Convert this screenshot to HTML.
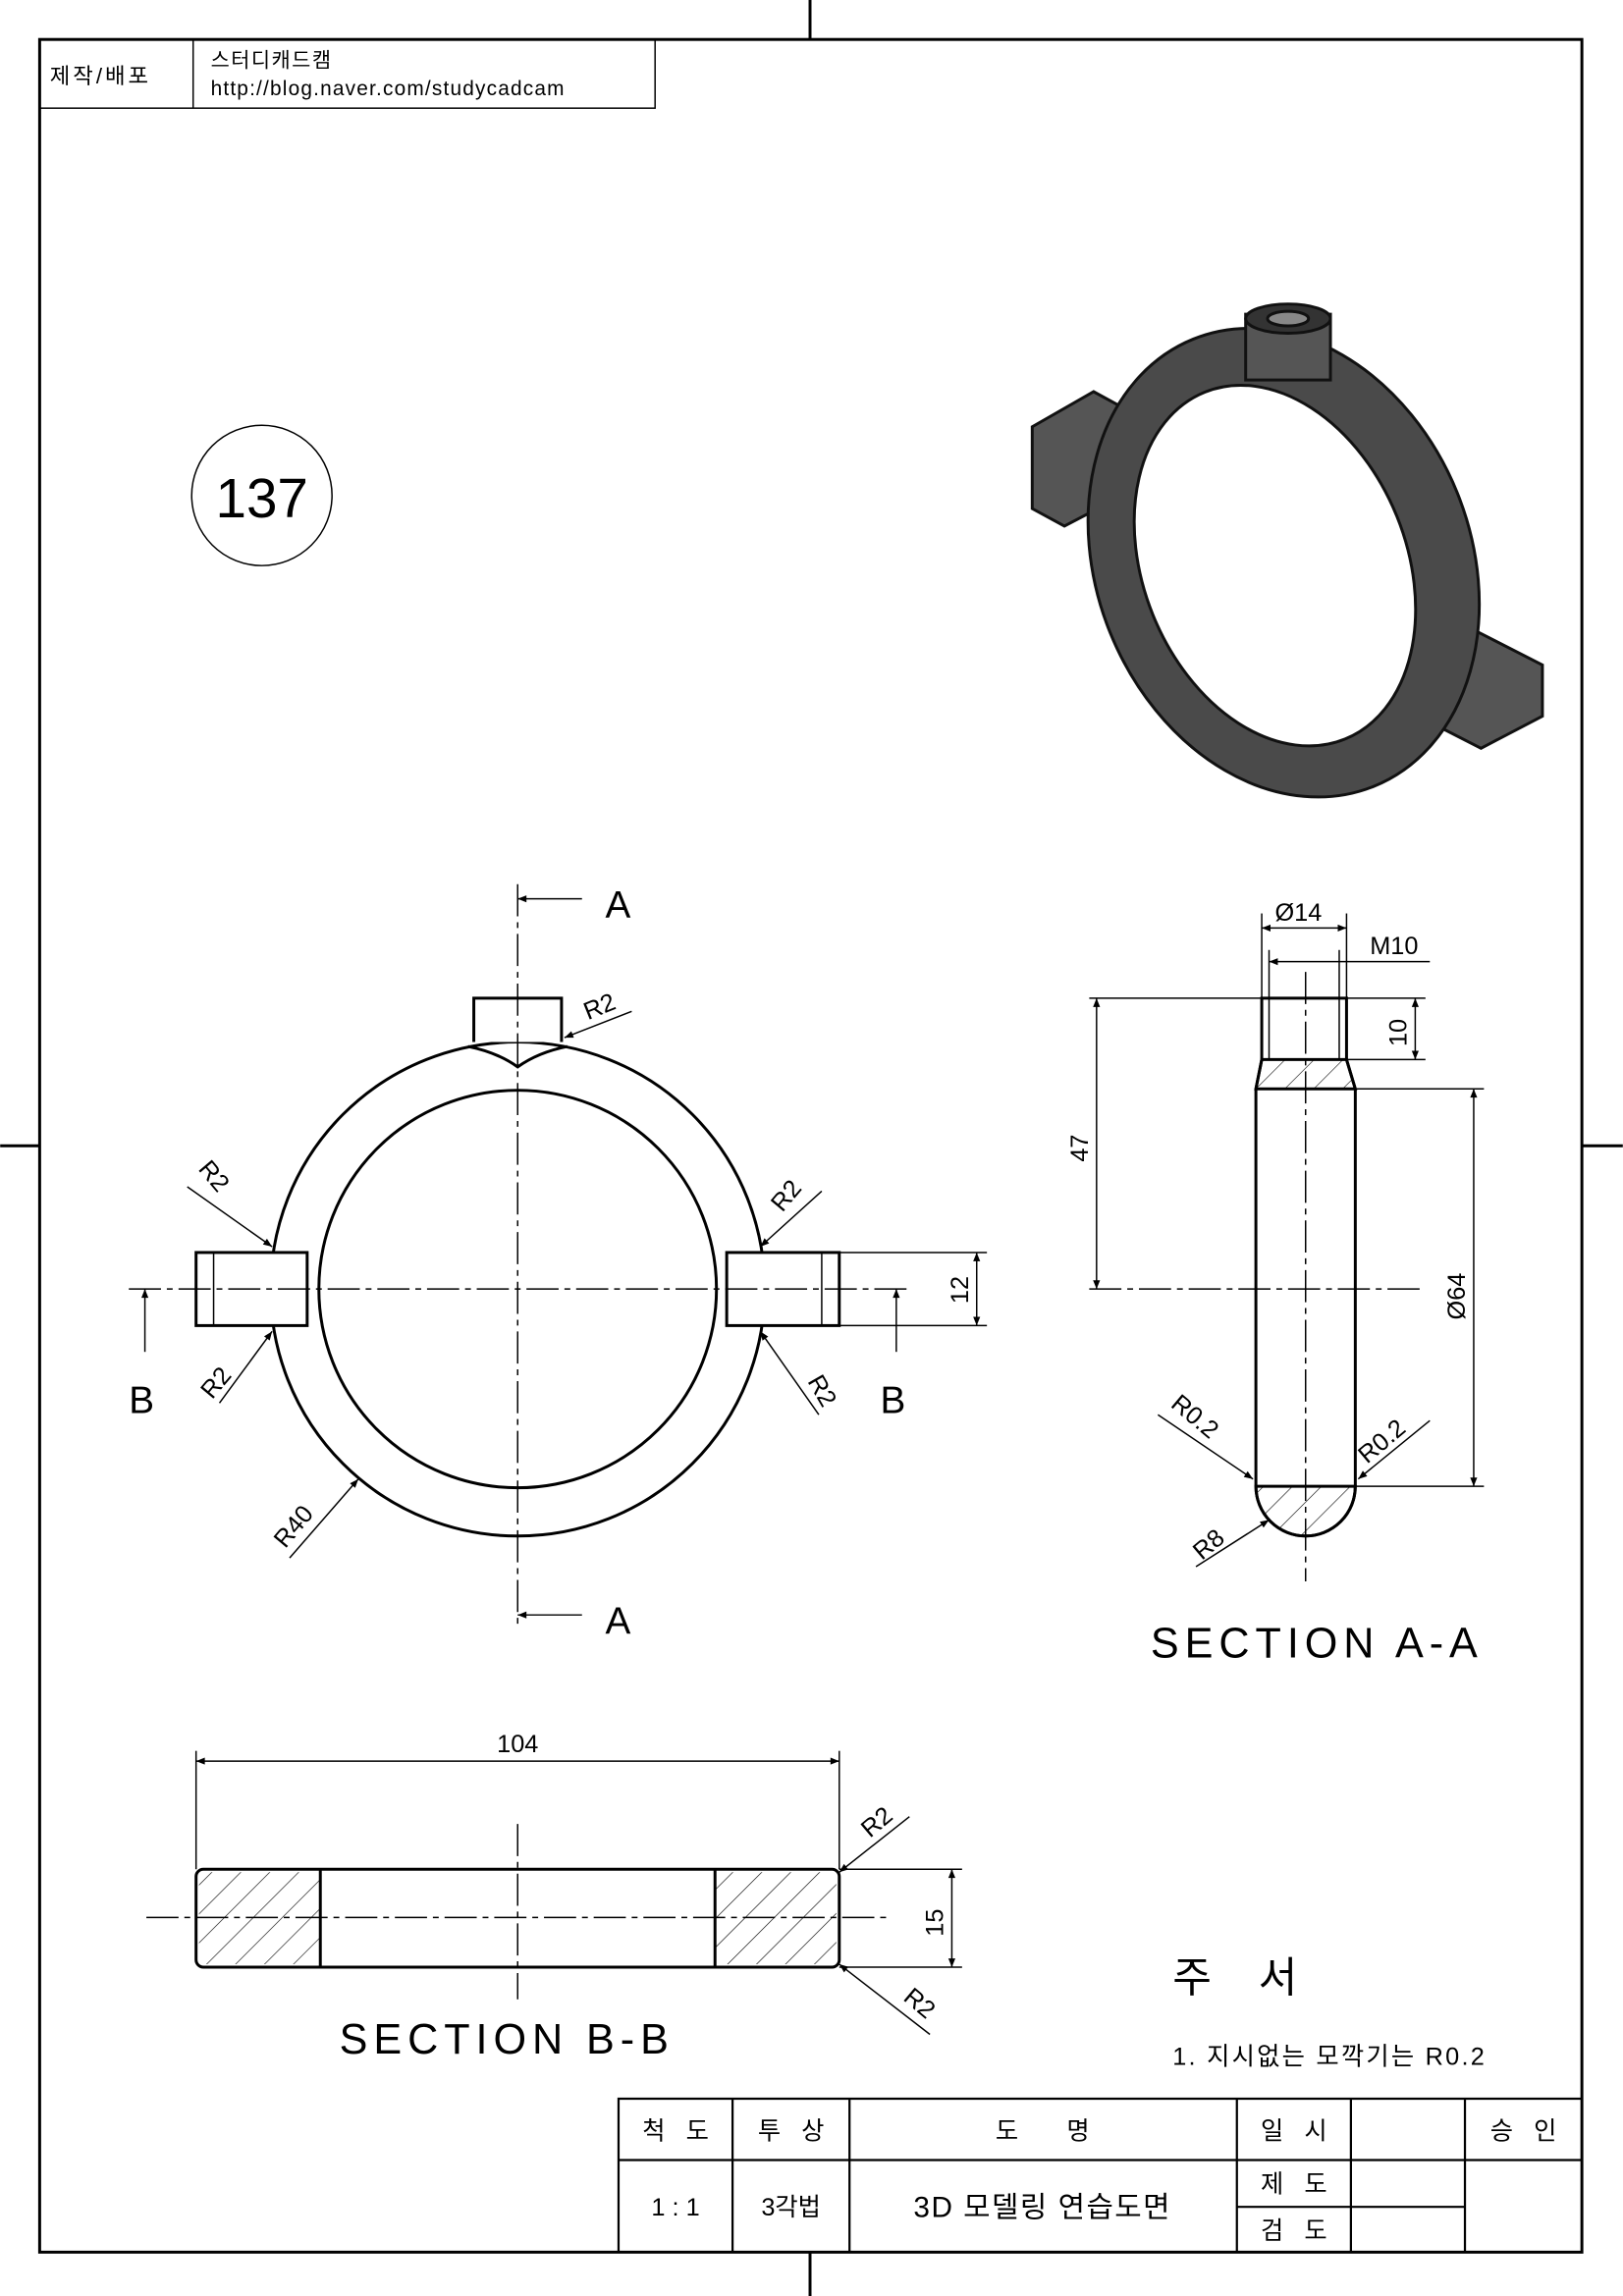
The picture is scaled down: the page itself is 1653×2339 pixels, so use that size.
<!DOCTYPE html>
<html><head><meta charset="utf-8"><style>
html,body{margin:0;padding:0;background:#fff;}
svg{display:block;}
text{font-family:"Liberation Sans","Noto Sans CJK KR",sans-serif;fill:#000;}
</style></head><body>
<svg width="1653" height="2339" viewBox="0 0 1110 1571" xmlns="http://www.w3.org/2000/svg">
<defs>
<pattern id="h" width="14" height="14" patternUnits="userSpaceOnUse" patternTransform="rotate(45)">
<line x1="0" y1="0" x2="0" y2="14" stroke="#000" stroke-width="0.8"/></pattern>
<marker id="a" viewBox="0 0 10 10" refX="10" refY="5" markerWidth="8" markerHeight="6" orient="auto-start-reverse"><path d="M0,1 L10,5 L0,9z" fill="#000"/></marker>
</defs>
<g fill="none" stroke="#000">
<rect x="27" y="27" width="1055" height="1514" stroke-width="2"/>
<line x1="554" y1="0" x2="554" y2="27" stroke-width="2"/>
<line x1="554" y1="1541" x2="554" y2="1571" stroke-width="2"/>
<line x1="0" y1="784" x2="27" y2="784" stroke-width="2"/>
<line x1="1082" y1="784" x2="1110" y2="784" stroke-width="2"/>
<rect x="27" y="27" width="421" height="47"/>
<line x1="132" y1="27" x2="132" y2="74"/>
<circle cx="179" cy="339" r="48"/>
</g>
<text x="34" y="57" font-size="15" letter-spacing="2">제작/배포</text>
<text x="144" y="46" font-size="14" letter-spacing="1">스터디캐드캠</text>
<text x="144" y="65" font-size="14" letter-spacing="0.8">http://blog.naver.com/studycadcam</text>
<text x="179" y="354" font-size="38" text-anchor="middle">137</text>

<!-- iso -->
<g stroke="#111" stroke-width="2">
<polygon points="706,292 748,268 770,280 770,338 728,360 706,348" fill="#555"/>
<polygon points="1010,432 1055,455 1055,490 1013,512 970,490 970,455" fill="#555"/>
<ellipse cx="878" cy="385" rx="128" ry="165" transform="rotate(-22 878 385)" fill="#4a4a4a"/>
<ellipse cx="872" cy="387" rx="90" ry="128" transform="rotate(-22 872 387)" fill="#fff"/>
<rect x="852" y="215" width="58" height="45" fill="#555"/>
<ellipse cx="881" cy="218" rx="29" ry="10" fill="#333"/>
<ellipse cx="881" cy="218" rx="14" ry="5" fill="#888"/>
</g>

<!-- front view -->
<g fill="none" stroke="#000" stroke-width="2">
<circle cx="354" cy="882" r="169"/>
<circle cx="354" cy="882" r="136"/>
<path d="M324,713 L324,683 L384,683 L384,713" fill="#fff"/>
<path d="M320,716 Q340,720 354,730 Q368,720 388,716"/>
<rect x="134" y="857" width="76" height="50" fill="#fff"/>
<rect x="497" y="857" width="77" height="50" fill="#fff"/>
<line x1="146" y1="857" x2="146" y2="907" stroke-width="1"/>
<line x1="562" y1="857" x2="562" y2="907" stroke-width="1"/>
</g>
<g stroke="#000" stroke-width="1" stroke-dasharray="22,4,4,4">
<line x1="354" y1="605" x2="354" y2="1115"/>
<line x1="88" y1="882" x2="624" y2="882"/>
</g>
<g stroke="#000" stroke-width="1">
<line x1="354" y1="615" x2="398" y2="615" marker-start="url(#a)"/>
<line x1="354" y1="1105" x2="398" y2="1105" marker-start="url(#a)"/>
<line x1="99" y1="882" x2="99" y2="925" marker-start="url(#a)"/>
<line x1="613" y1="882" x2="613" y2="925" marker-start="url(#a)"/>
<line x1="574" y1="857" x2="675" y2="857"/><line x1="574" y1="907" x2="675" y2="907"/>
<line x1="668" y1="857" x2="668" y2="907" marker-start="url(#a)" marker-end="url(#a)"/>
<line x1="386" y1="710" x2="432" y2="692" marker-start="url(#a)"/>
<line x1="186" y1="853" x2="128" y2="812" marker-start="url(#a)"/>
<line x1="186" y1="911" x2="150" y2="960" marker-start="url(#a)"/>
<line x1="520" y1="853" x2="562" y2="815" marker-start="url(#a)"/>
<line x1="520" y1="911" x2="560" y2="968" marker-start="url(#a)"/>
<line x1="245" y1="1012" x2="198" y2="1066" marker-start="url(#a)"/>
</g>
<g font-size="26"><text x="414" y="628">A</text><text x="414" y="1118">A</text><text x="88" y="967">B</text><text x="602" y="967">B</text></g>
<g font-size="17">
<text x="402" y="698" transform="rotate(-22 402 698)">R2</text>
<text x="135" y="800" transform="rotate(50 135 800)">R2</text>
<text x="145" y="958" transform="rotate(-50 145 958)">R2</text>
<text x="535" y="830" transform="rotate(-50 535 830)">R2</text>
<text x="552" y="945" transform="rotate(60 552 945)">R2</text>
<text x="195" y="1060" transform="rotate(-50 195 1060)">R40</text>
<text x="662" y="892" transform="rotate(-90 662 892)">12</text>
</g>

<!-- section A-A -->
<g stroke="#000" stroke-width="2">
<path d="M863,683 L921,683 L921,725 L927,745 L927,1017 A34,34 0 0 1 859,1017 L859,745 L863,725 Z" fill="#fff"/>
<path d="M863,725 L921,725 L927,745 L859,745 Z" fill="url(#h)"/>
<path d="M859,1017 L927,1017 A34,34 0 0 1 859,1017 Z" fill="url(#h)"/>
<line x1="868" y1="683" x2="868" y2="725" stroke-width="1"/>
<line x1="916" y1="683" x2="916" y2="725" stroke-width="1"/>
</g>
<g stroke="#000" stroke-width="1">
<line x1="893" y1="665" x2="893" y2="1082" stroke-dasharray="22,4,4,4"/>
<line x1="745" y1="882" x2="975" y2="882" stroke-dasharray="22,4,4,4"/>
<line x1="863" y1="683" x2="863" y2="625"/><line x1="921" y1="683" x2="921" y2="625"/>
<line x1="863" y1="635" x2="921" y2="635" marker-start="url(#a)" marker-end="url(#a)"/>
<line x1="868" y1="683" x2="868" y2="650"/><line x1="916" y1="683" x2="916" y2="650"/>
<line x1="868" y1="658" x2="978" y2="658" marker-start="url(#a)"/>
<line x1="921" y1="683" x2="975" y2="683"/><line x1="921" y1="725" x2="975" y2="725"/>
<line x1="968" y1="683" x2="968" y2="725" marker-start="url(#a)" marker-end="url(#a)"/>
<line x1="745" y1="683" x2="863" y2="683"/>
<line x1="750" y1="683" x2="750" y2="882" marker-start="url(#a)" marker-end="url(#a)"/>
<line x1="927" y1="745" x2="1015" y2="745"/><line x1="927" y1="1017" x2="1015" y2="1017"/>
<line x1="1008" y1="745" x2="1008" y2="1017" marker-start="url(#a)" marker-end="url(#a)"/>
<line x1="857" y1="1012" x2="792" y2="968" marker-start="url(#a)"/>
<line x1="929" y1="1012" x2="978" y2="972" marker-start="url(#a)"/>
<line x1="868" y1="1040" x2="818" y2="1072" marker-start="url(#a)"/>
</g>
<g font-size="17">
<text x="872" y="630">Ø14</text><text x="937" y="653">M10</text>
<text x="962" y="716" transform="rotate(-90 962 716)">10</text>
<text x="744" y="795" transform="rotate(-90 744 795)">47</text>
<text x="1002" y="903" transform="rotate(-90 1002 903)">Ø64</text>
<text x="800" y="962" transform="rotate(40 800 962)">R0.2</text>
<text x="935" y="1002" transform="rotate(-40 935 1002)">R0.2</text>
<text x="822" y="1068" transform="rotate(-40 822 1068)">R8</text>
</g>
<text x="787" y="1134" font-size="29" letter-spacing="4">SECTION A-A</text>

<!-- section B-B -->
<g stroke="#000" stroke-width="2">
<rect x="134" y="1279" width="440" height="67" rx="5" fill="#fff"/>
<rect x="136" y="1281" width="83" height="63" fill="url(#h)" stroke="none"/>
<rect x="489" y="1281" width="83" height="63" fill="url(#h)" stroke="none"/>
<line x1="219" y1="1279" x2="219" y2="1346"/><line x1="489" y1="1279" x2="489" y2="1346"/>
</g>
<g stroke="#000" stroke-width="1">
<line x1="354" y1="1248" x2="354" y2="1368" stroke-dasharray="22,4,4,4"/>
<line x1="100" y1="1312" x2="610" y2="1312" stroke-dasharray="22,4,4,4"/>
<line x1="134" y1="1279" x2="134" y2="1198"/><line x1="574" y1="1279" x2="574" y2="1198"/>
<line x1="134" y1="1205" x2="574" y2="1205" marker-start="url(#a)" marker-end="url(#a)"/>
<line x1="574" y1="1279" x2="658" y2="1279"/><line x1="574" y1="1346" x2="658" y2="1346"/>
<line x1="651" y1="1279" x2="651" y2="1346" marker-start="url(#a)" marker-end="url(#a)"/>
<line x1="574" y1="1281" x2="622" y2="1243" marker-start="url(#a)"/>
<line x1="574" y1="1344" x2="636" y2="1392" marker-start="url(#a)"/>
</g>
<g font-size="17">
<text x="354" y="1199" text-anchor="middle">104</text>
<text x="645" y="1325" transform="rotate(-90 645 1325)">15</text>
<text x="595" y="1258" transform="rotate(-40 595 1258)">R2</text>
<text x="617" y="1368" transform="rotate(40 617 1368)">R2</text>
</g>
<text x="232" y="1405" font-size="29" letter-spacing="4">SECTION B-B</text>

<text x="802" y="1363" font-size="29" letter-spacing="12">주 서</text>
<text x="802" y="1413" font-size="17" letter-spacing="1.5">1. 지시없는 모깍기는 R0.2</text>

<!-- title block -->
<g fill="none" stroke="#000" stroke-width="1.5">
<rect x="423" y="1436" width="659" height="105"/>
<line x1="423" y1="1478" x2="846" y2="1478"/>
<line x1="846" y1="1478" x2="1082" y2="1478"/>
<line x1="846" y1="1510" x2="1002" y2="1510"/>
<line x1="501" y1="1436" x2="501" y2="1541"/>
<line x1="581" y1="1436" x2="581" y2="1541"/>
<line x1="846" y1="1436" x2="846" y2="1541"/>
<line x1="924" y1="1436" x2="924" y2="1541"/>
<line x1="1002" y1="1436" x2="1002" y2="1541"/>
</g>
<g font-size="17" text-anchor="middle">
<text x="462" y="1464">척 &#160; 도</text><text x="541" y="1464">투 &#160; 상</text>
<text x="713" y="1464">도 &#160; &#160; &#160; 명</text><text x="885" y="1464">일 &#160; 시</text>
<text x="1042" y="1464">승 &#160; 인</text>
<text x="462" y="1516">1 : 1</text><text x="541" y="1516">3각법</text>
<text x="713" y="1517" font-size="20" letter-spacing="1">3D 모델링 연습도면</text>
<text x="885" y="1500">제 &#160; 도</text><text x="885" y="1532">검 &#160; 도</text>
</g>
</svg>
</body></html>
